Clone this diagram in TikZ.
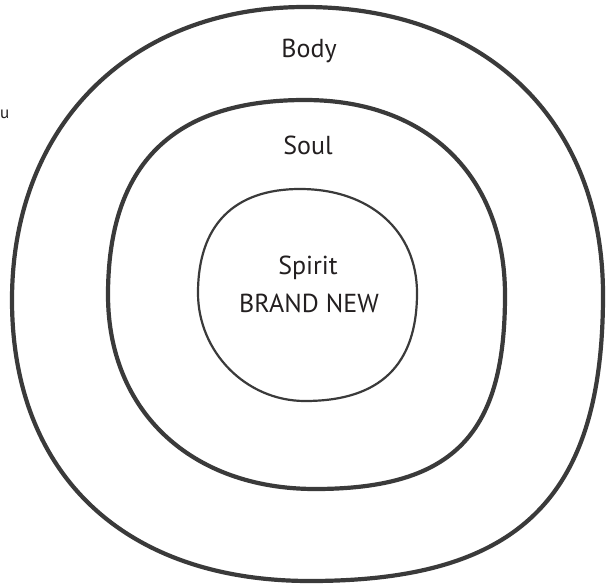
\documentclass[tikz,border=0pt]{standalone}
\usepackage{fontspec}
\setmainfont{PT Sans}
\definecolor{ink}{HTML}{3A3A3A}
\definecolor{txt}{HTML}{231F20}
\begin{document}
\begin{tikzpicture}[x=1pt,y=-1pt,
  ring/.style={draw=ink, line join=round},
  thick ring/.style={ring, line width=4.2pt},
  thin ring/.style={ring, line width=2.2pt},
  label/.style={text=txt, font=\fontsize{26}{29}\selectfont, inner sep=0pt, anchor=base}]
\useasboundingbox (0,0) rectangle (609,583);
\fill[white] (0,0) rectangle (609,583);
% outer ring (Body)
\draw[thick ring] (305,7)
  .. controls (484,7) and (603,119) .. (603,295)
  .. controls (603,496) and (521,581) .. (310,581)
  .. controls (125,581) and (12,475) .. (12,300)
  .. controls (12,124) and (132,7) .. (305,7) -- cycle;
% middle ring (Soul)
\draw[thick ring] (305,100)
  .. controls (429,100) and (505,178) .. (505,295)
  .. controls (505,431) and (457,489) .. (315,489)
  .. controls (191,489) and (108,411) .. (108,295)
  .. controls (108,164) and (173,100) .. (305,100) -- cycle;
% inner ring (Spirit)
\draw[thin ring] (300,189)
  .. controls (370,189) and (417,231) .. (417,293)
  .. controls (417,365) and (380,401) .. (305,401)
  .. controls (246,401) and (198,352) .. (198,293)
  .. controls (198,225) and (234,189) .. (300,189) -- cycle;
\node[label] (body) at (309,58) {Body};
\node[label] (soul) at (308,154) {Soul};
\node[label] (spirit) at (308,274) {Spirit};
\node[label] (brand) at (309,312) {BRAND NEW};
\node[label, anchor=base west, font=\fontsize{17}{19}\selectfont] (frag) at (0,118) {u};
\end{tikzpicture}
\end{document}
